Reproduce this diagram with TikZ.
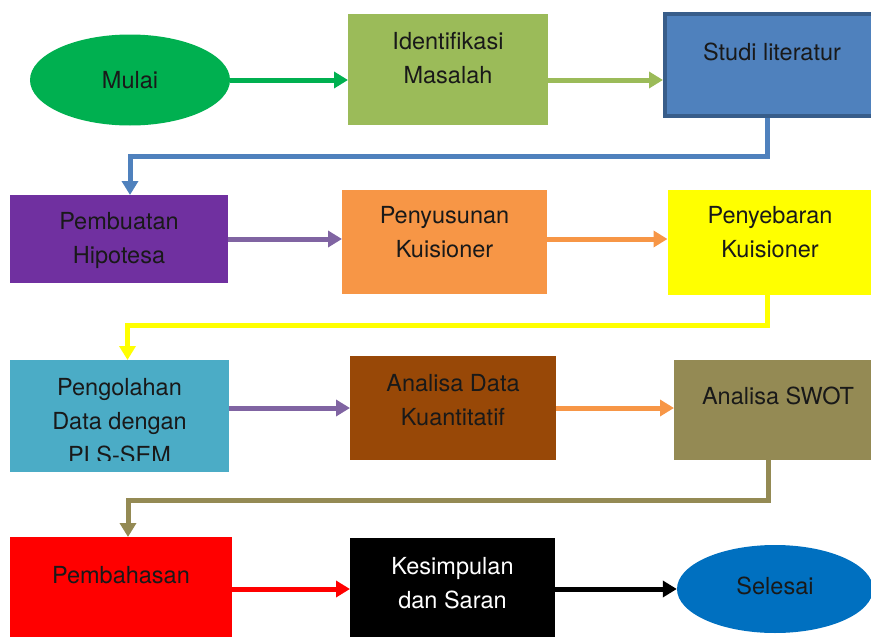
\documentclass[tikz,border=0pt]{standalone}
\usepackage{fontspec}
\setmainfont{TeX Gyre Heros}
\usetikzlibrary{arrows.meta,shapes.geometric}

\definecolor{hijau}{HTML}{00B050}
\definecolor{hijaumuda}{HTML}{9BBB59}
\definecolor{biru}{HTML}{4F81BD}
\definecolor{birutua}{HTML}{385D8A}
\definecolor{ungu}{HTML}{7030A0}
\definecolor{ungumuda}{HTML}{8064A2}
\definecolor{oranye}{HTML}{F79646}
\definecolor{kuning}{HTML}{FFFF00}
\definecolor{tosca}{HTML}{4BACC6}
\definecolor{coklat}{HTML}{984807}
\definecolor{zaitun}{HTML}{948A54}
\definecolor{merah}{HTML}{FF0000}
\definecolor{birulaut}{HTML}{0070C0}

\begin{document}
\begin{tikzpicture}[x=1pt,y=-1pt,
  kotak/.style={rectangle,draw=none,outer sep=0pt,inner sep=0pt},
  teks/.style={font=\fontsize{23.5}{34}\selectfont,align=center,text=black!90},
  panah/.style={line width=5pt,-{Triangle[length=14pt,width=16pt]}}]
\useasboundingbox (0,0) rectangle (871,637);

% baris 1
\node[ellipse,fill=hijau,draw=none,inner sep=0pt,minimum width=200,minimum height=91,
  label={[teks]center:Mulai}] (mulai) at (130,80) {};
\node[kotak,fill=hijaumuda,minimum width=200,minimum height=111,
  label={[teks,yshift=11pt]center:Identifikasi\\Masalah}] (masalah) at (448,69.5) {};
\node[kotak,fill=biru,draw=birutua,line width=4pt,outer sep=2pt,minimum width=220,minimum height=102,
  label={[teks,yshift=13pt,xshift=-3pt]center:Studi literatur}] (studi) at (775,65) {};

% baris 2
\node[kotak,fill=ungu,minimum width=218,minimum height=88,
  label={[teks,yshift=-1pt]center:Pembuatan\\Hipotesa}] (hipotesa) at (119,239) {};
\node[kotak,fill=oranye,minimum width=205,minimum height=104,
  label={[teks,yshift=9.5pt]center:Penyusunan\\Kuisioner}] (susun) at (444.5,242) {};
\node[kotak,fill=kuning,minimum width=205,minimum height=105,
  label={[teks,yshift=10pt]center:Penyebaran\\Kuisioner}] (sebar) at (770,242.5) {};

% baris 3
\node[kotak,fill=tosca,minimum width=219,minimum height=112] (olah) at (119.5,416) {};
\begin{scope}
  \clip (10,360) rectangle (229,460);
  \node[teks] (olahteks) at (119.5,421.5) {Pengolahan\\Data dengan\\PLS-SEM};
\end{scope}
\node[kotak,fill=coklat,minimum width=206,minimum height=104,
  label={[teks,yshift=8pt]center:Analisa Data\\Kuantitatif}] (kuanti) at (453,408) {};
\node[kotak,fill=zaitun,minimum width=200,minimum height=100,
  label={[teks,yshift=14pt,xshift=4pt]center:Analisa SWOT}] (swot) at (774,410) {};

% baris 4
\node[kotak,fill=merah,minimum width=222,minimum height=104,
  label={[teks,yshift=14pt]center:Pembahasan}] (bahas) at (121,589) {};
\node[kotak,fill=black,minimum width=205,minimum height=102,
  label={[teks,text=white,yshift=6pt]center:Kesimpulan\\dan Saran}] (simpul) at (452.5,589) {};
\node[ellipse,fill=birulaut,draw=none,inner sep=0pt,minimum width=196,minimum height=88,
  label={[teks,yshift=3pt]center:Selesai}] (selesai) at (775,589) {};

% panah mendatar
\draw[panah,hijau] (mulai.east) -- (mulai.east -| masalah.west);
\draw[panah,hijaumuda] (mulai.east -| masalah.east) -- (mulai.east -| studi.west);
\draw[panah,ungumuda] (hipotesa.east) -- (hipotesa.east -| susun.west);
\draw[panah,oranye] (hipotesa.east -| susun.east) -- (hipotesa.east -| sebar.west);
\draw[panah,ungumuda] (kuanti.west -| olah.east) -- (kuanti.west);
\draw[panah,oranye] (kuanti.east) -- (kuanti.east -| swot.west);
\draw[panah,merah] (bahas.east) -- (bahas.east -| simpul.west);
\draw[panah,black] (simpul.east) -- (simpul.east -| selesai.west);

% panah pindah baris
\draw[panah,biru] ([xshift=-8pt]studi.south) -- ++(0,38) -| ([xshift=11pt]hipotesa.north);
\draw[panah,kuning] ([xshift=-3pt]sebar.south) -- ++(0,30) -| ([xshift=8pt]olah.north);
\draw[panah,zaitun] ([xshift=-6pt]swot.south) -- ++(0,40) -| ([xshift=7pt]bahas.north);
\end{tikzpicture}
\end{document}
